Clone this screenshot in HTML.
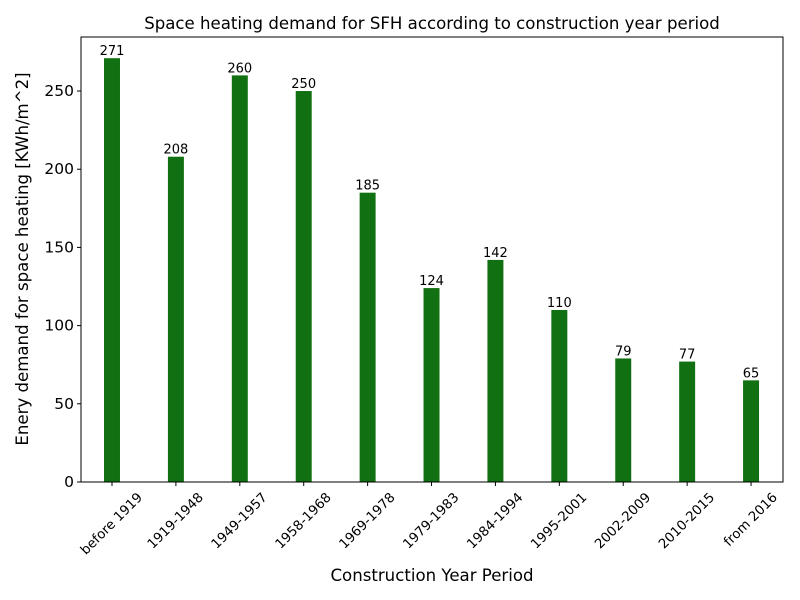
<!DOCTYPE html>
<html><head><meta charset="utf-8"><style>
body{margin:0;background:#fff;}
svg{display:block;font-family:"DejaVu Sans","Liberation Sans",sans-serif;}
</style></head><body>
<svg id="chart" width="800" height="600">
<text x="432" y="29" text-anchor="middle" font-size="16.6">Space heating demand for SFH according to construction year period</text>
<text x="432" y="581" text-anchor="middle" font-size="16.6">Construction Year Period</text>
<text transform="translate(28,259) rotate(-90)" text-anchor="middle" font-size="16.6">Enery demand for space heating [KWh/m^2]</text>
<g id="bars"></g><g id="yticks"></g><g id="xticks"></g>
<rect x="81" y="37" width="702" height="445" fill="none" stroke="#000" stroke-width="1"/>
</svg>
<script>
const categories=["before 1919","1919-1948","1949-1957","1958-1968","1969-1978","1979-1983","1984-1994","1995-2001","2002-2009","2010-2015","from 2016"];
const values=[271,208,260,250,185,124,142,110,79,77,65];
const yTicks=[0,50,100,150,200,250];
const L=81,R=783,T=37,B=482,yMax=284.55,xMin=-0.485,xMax=10.5;
const ns="http://www.w3.org/2000/svg";
const x=i=>L+(i-xMin)/(xMax-xMin)*(R-L);
const y=v=>B-v/yMax*(B-T);
function mk(tag,attrs,parent,text){const e=document.createElementNS(ns,tag);for(const k in attrs)e.setAttribute(k,attrs[k]);if(text!==undefined)e.textContent=text;document.getElementById(parent).appendChild(e);return e;}
const bw=(x(0.25)-x(0));
values.forEach((v,i)=>{
 const b=mk('rect',{x:x(i)-bw/2,y:y(v),width:bw,height:B-y(v),fill:'#117011'},'bars');
 
 
 const t=mk('text',{x:x(i),y:y(v)-3,'text-anchor':'middle','font-size':'13'},'bars',String(v));
 
 
});
yTicks.forEach(v=>{
 mk('line',{x1:L-4,x2:L,y1:y(v),y2:y(v),stroke:'#000'},'yticks');
 const t=mk('text',{x:L-7,y:y(v)+5,'text-anchor':'end','font-size':'15.5'},'yticks',String(v));
 
 
});
categories.forEach((c,i)=>{
 mk('line',{x1:x(i),x2:x(i),y1:B,y2:B+4,stroke:'#000'},'xticks');
 const t=mk('text',{'text-anchor':'middle','dominant-baseline':'central','font-size':'13.3'},'xticks',c);
 
 
 const w=t.getComputedTextLength(), h=13.3;
 const cy=B+9+(w+h)*0.7071/2;
 t.setAttribute('transform',`translate(${x(i)},${cy}) rotate(-45)`);
});
</script>
</body></html>
